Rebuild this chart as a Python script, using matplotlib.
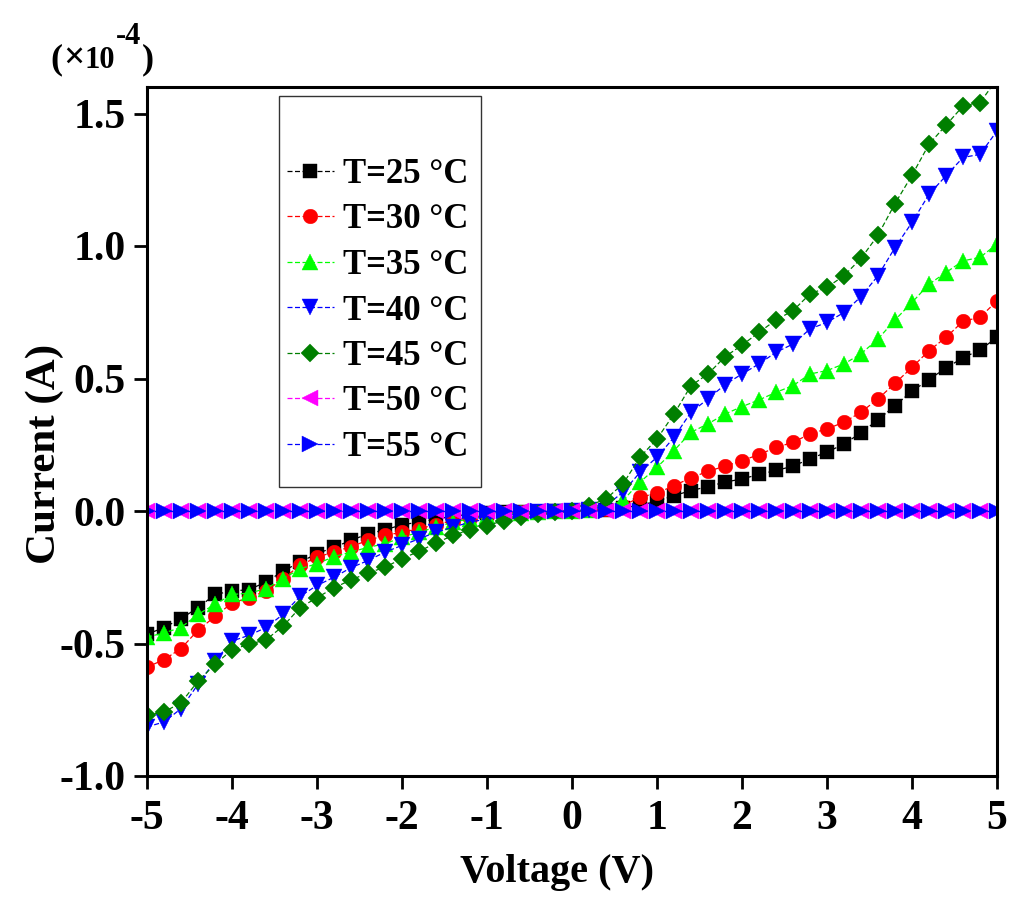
import matplotlib
matplotlib.use("Agg")
import matplotlib.pyplot as plt
from matplotlib.patches import Rectangle
import numpy as np

voltage = [-5.0, -4.8, -4.6, -4.4, -4.2, -4.0, -3.8, -3.6, -3.4, -3.2, -3.0, -2.8, -2.6,
           -2.4, -2.2, -2.0, -1.8, -1.6, -1.4, -1.2, -1.0, -0.8, -0.6, -0.4, -0.2, 0.0,
           0.2, 0.4, 0.6, 0.8, 1.0, 1.2, 1.4, 1.6, 1.8, 2.0, 2.2, 2.4, 2.6, 2.8, 3.0,
           3.2, 3.4, 3.6, 3.8, 4.0, 4.2, 4.4, 4.6, 4.8, 5.0]

i_25 = [-0.465, -0.440, -0.406, -0.365, -0.315, -0.302, -0.297, -0.268, -0.227, -0.193, -0.161, -0.137, -0.111,
        -0.086, -0.071, -0.052, -0.042, -0.030, -0.020, -0.012, -0.008, -0.005, -0.003, -0.002, -0.001, 0.0,
        0.002, 0.005, 0.012, 0.022, 0.037, 0.058, 0.077, 0.092, 0.109, 0.121, 0.138, 0.153, 0.169, 0.197, 0.222,
        0.253, 0.295, 0.344, 0.398, 0.452, 0.496, 0.540, 0.578, 0.608, 0.655]
i_30 = [-0.589, -0.561, -0.519, -0.450, -0.398, -0.347, -0.327, -0.302, -0.256, -0.205, -0.174, -0.155, -0.134,
        -0.111, -0.092, -0.080, -0.067, -0.051, -0.036, -0.025, -0.015, -0.009, -0.005, -0.003, -0.001, 0.0,
        0.003, 0.008, 0.020, 0.052, 0.067, 0.096, 0.125, 0.150, 0.169, 0.190, 0.213, 0.240, 0.259, 0.291, 0.310,
        0.335, 0.373, 0.423, 0.482, 0.542, 0.605, 0.655, 0.716, 0.731, 0.793]
i_35 = [-0.476, -0.460, -0.440, -0.390, -0.352, -0.315, -0.310, -0.293, -0.256, -0.218, -0.199, -0.172, -0.155,
        -0.137, -0.124, -0.099, -0.080, -0.061, -0.042, -0.030, -0.020, -0.012, -0.006, -0.003, -0.001, 0.0,
        0.005, 0.015, 0.040, 0.109, 0.165, 0.228, 0.297, 0.329, 0.366, 0.394, 0.419, 0.448, 0.473, 0.517, 0.530,
        0.555, 0.593, 0.649, 0.721, 0.787, 0.856, 0.900, 0.944, 0.957, 1.007]
i_40 = [-0.815, -0.796, -0.746, -0.654, -0.566, -0.491, -0.469, -0.440, -0.390, -0.322, -0.281, -0.250, -0.214,
        -0.187, -0.155, -0.130, -0.105, -0.080, -0.061, -0.042, -0.030, -0.018, -0.010, -0.005, -0.002, 0.0,
        0.005, 0.020, 0.071, 0.146, 0.203, 0.278, 0.373, 0.423, 0.477, 0.517, 0.555, 0.599, 0.630, 0.687, 0.712,
        0.749, 0.809, 0.888, 0.994, 1.089, 1.195, 1.265, 1.334, 1.346, 1.434]
i_45 = [-0.771, -0.758, -0.724, -0.642, -0.579, -0.523, -0.503, -0.486, -0.435, -0.365, -0.327, -0.290, -0.260,
        -0.234, -0.212, -0.180, -0.152, -0.121, -0.092, -0.071, -0.055, -0.036, -0.023, -0.012, -0.005, 0.0,
        0.020, 0.046, 0.102, 0.203, 0.272, 0.366, 0.473, 0.517, 0.582, 0.626, 0.674, 0.721, 0.756, 0.819, 0.844,
        0.888, 0.953, 1.041, 1.160, 1.267, 1.384, 1.456, 1.528, 1.541, 1.630]
i_50 = [0.0] * 51
i_55 = [0.0] * 51

labels = ["T=25 °C", "T=30 °C", "T=35 °C", "T=40 °C", "T=45 °C", "T=50 °C", "T=55 °C"]
series = [i_25, i_30, i_35, i_40, i_45, i_50, i_55]
colors = ["#000000", "#ff0000", "#00ff00", "#0000ff", "#007f00", "#ff00ff", "#0000ff"]
markers = ["s", "o", "^", "v", "D", "<", ">"]
msizes = [10, 10.5, 11.5, 11.5, 9.5, 11, 11]

xticks = [-5, -4, -3, -2, -1, 0, 1, 2, 3, 4, 5]
yticks = [-1.0, -0.5, 0.0, 0.5, 1.0, 1.5]

plt.rcParams["font.family"] = ["Liberation Serif", "DejaVu Serif"]
plt.rcParams["font.weight"] = "bold"
plt.rcParams["axes.unicode_minus"] = False

fig = plt.figure(figsize=(10.24, 9.10), dpi=100)
ax = fig.add_axes([147/1024, 1-776/910, 850/1024, 689/910])

for y, lab, c, m, ms in zip(series, labels, colors, markers, msizes):
    ax.plot(voltage, y, linestyle="--", dashes=(4, 2), linewidth=0.9, color=c,
            marker=m, markersize=ms, markerfacecolor=c, markeredgecolor=c,
            markeredgewidth=0.3, label=lab)

ax.set_xlim(-5, 5)
ax.set_ylim(-1.0, 1.6)
ax.set_xticks(xticks)
ax.set_yticks(yticks)
ax.set_xticklabels([str(t) for t in xticks])
ax.set_yticklabels([f"{t:.1f}" for t in yticks])
for s in ax.spines.values():
    s.set_linewidth(2.2)
ax.tick_params(direction="out", length=9.5, width=2.0, labelsize=30, pad=6)
ax.tick_params(axis="x", pad=8)
for lab in ax.get_xticklabels() + ax.get_yticklabels():
    lab.set_fontweight("bold")

ax.set_xlabel("Voltage (V)", fontsize=29, fontweight="bold")
ax.set_ylabel("Current (A)", fontsize=31, fontweight="bold")
ax.xaxis.set_label_coords(0.482, -0.113)
ax.yaxis.set_label_coords(-0.098, 0.467)

# (x10^-4) multiplier label built from pieces
W, H = 1024, 910
r = fig.canvas.get_renderer()
p1 = fig.text(50/W, 1-68/H, "(", fontsize=26, fontweight="bold", ha="left", va="baseline")
bb = p1.get_window_extent(r)
p2 = fig.text(bb.x1/W + 1/W, 1-68/H, "×", fontsize=27, fontweight="bold", ha="left", va="baseline")
bb = p2.get_window_extent(r)
p2b = fig.text(bb.x1/W, 1-68/H, "10", fontsize=22, fontweight="bold", ha="left", va="baseline")
bb = p2b.get_window_extent(r)
p3 = fig.text(bb.x1/W + 1/W, 1-44/H, "-4", fontsize=22, fontweight="bold", ha="left", va="baseline")
bb = p3.get_window_extent(r)
fig.text(bb.x1/W + 1/W, 1-68/H, ")", fontsize=26, fontweight="bold", ha="left", va="baseline")

rect = Rectangle((0.1553, 0.4194), 0.2376, 0.5675, transform=ax.transAxes,
                 fill=True, facecolor="white", edgecolor="#333333", linewidth=1.0, zorder=5)
ax.add_patch(rect)
leg = ax.legend(loc="upper left", bbox_to_anchor=((287-147)/850, (776-158)/689),
                frameon=False, fontsize=25, handlelength=1.35, handletextpad=0.25,
                labelspacing=0.36, borderpad=0, borderaxespad=0, markerscale=1.0)
leg.set_zorder(6)

fig.savefig("out.png", dpi=100)
